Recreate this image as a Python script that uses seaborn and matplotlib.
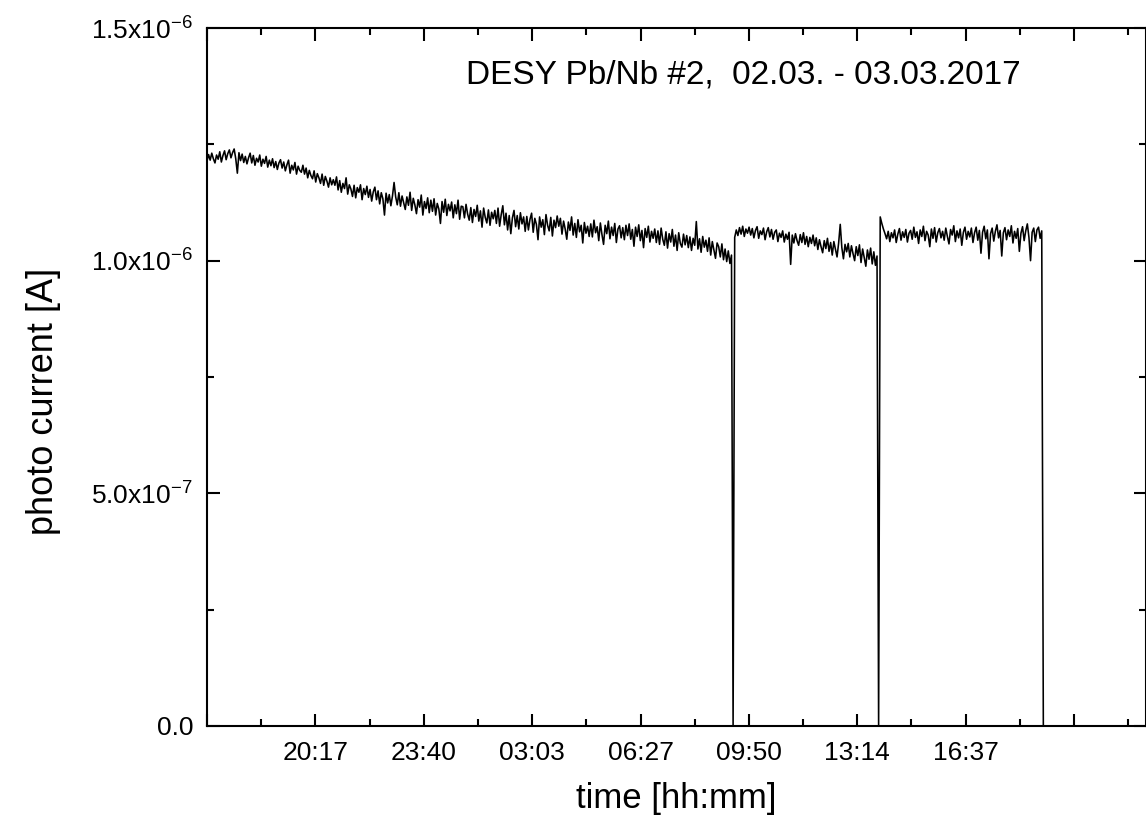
import numpy as np
import seaborn as sns
import matplotlib.pyplot as plt
from matplotlib.ticker import FixedLocator, NullFormatter

# photo current in nA, one sample every 0.05 h, start 16:54 on 02.03.2017
# beam dropouts (0 A) between the runs and at the end
run1_nA = [
    1214, 1228, 1216, 1231, 1219, 1210, 1227, 1218, 1234, 1212, 1226, 1236, 1217, 1230, 1238, 1221, 1232, 1240, 1219, 1188,
    1232, 1215, 1229, 1211, 1224, 1208, 1221, 1231, 1210, 1226, 1205, 1220, 1212, 1227, 1203, 1218, 1209, 1224, 1201, 1216,
    1204, 1219, 1200, 1213, 1196, 1210, 1217, 1199, 1212, 1193, 1206, 1216, 1188, 1205, 1195, 1211, 1186, 1203, 1194, 1190,
    1205, 1186, 1199, 1178, 1194, 1183, 1176, 1193, 1169, 1187, 1178, 1166, 1186, 1162, 1181, 1171, 1158, 1178, 1163, 1174,
    1162, 1180, 1152, 1172, 1147, 1166, 1155, 1178, 1143, 1163, 1154, 1138, 1162, 1135, 1157, 1147, 1163, 1131, 1155, 1142,
    1160, 1136, 1153, 1128, 1148, 1158, 1131, 1150, 1122, 1146, 1133, 1098, 1145, 1124, 1142, 1118, 1139, 1168, 1137, 1120,
    1146, 1117, 1139, 1125, 1110, 1137, 1119, 1147, 1108, 1134, 1120, 1101, 1131, 1115, 1141, 1098, 1127, 1112, 1135, 1103,
    1130, 1106, 1133, 1098, 1123, 1111, 1080, 1127, 1104, 1132, 1097, 1121, 1107, 1126, 1092, 1120, 1101, 1130, 1089, 1117,
    1116, 1092, 1121, 1100, 1087, 1114, 1082, 1110, 1095, 1119, 1085, 1107, 1072, 1113, 1093, 1081, 1109, 1076, 1104, 1090,
    1108, 1080, 1113, 1074, 1099, 1118, 1077, 1102, 1066, 1097, 1058, 1092, 1108, 1073, 1097, 1068, 1103, 1079, 1094, 1063,
    1095, 1066, 1089, 1102, 1061, 1091, 1078, 1045, 1094, 1072, 1088, 1056, 1099, 1076, 1064, 1093, 1053, 1087, 1071, 1096,
    1074, 1091, 1057, 1085, 1068, 1046, 1083, 1065, 1094, 1055, 1080, 1050, 1088, 1062, 1076, 1038, 1082, 1059, 1074, 1052,
    1079, 1051, 1087, 1060, 1073, 1043, 1081, 1056, 1035, 1076, 1058, 1085, 1047, 1072, 1054, 1080, 1039, 1068, 1075, 1049,
    1071, 1045, 1076, 1054, 1079, 1046, 1067, 1031, 1072, 1052, 1077, 1043, 1065, 1028, 1069, 1050, 1074, 1040, 1063, 1048,
    1068, 1039, 1064, 1035, 1070, 1046, 1033, 1062, 1027, 1058, 1040, 1067, 1031, 1055, 1022, 1060, 1037, 1029, 1057, 1034,
    1054, 1028, 1051, 1022, 1048, 1033, 1084, 1025, 1047, 1018, 1052, 1029, 1044, 1020, 1049, 1012, 1041, 1023, 1005, 1038,
    1030, 1008, 1036, 1002, 1025, 998, 1021, 994, 1012,
]
run2_nA = [
    1050, 1066, 1054, 1071, 1057, 1074, 1052, 1068, 1059, 1072,
    1055, 1069, 1049, 1065, 1073, 1048, 1064, 1056, 1070, 1045, 1062, 1071, 1051, 1067, 1046, 1061, 1066, 1041, 1059, 1050,
    1064, 1040, 1057, 1046, 1061, 992, 1055, 1038, 1058, 1043, 1033, 1056, 1039, 1060, 1035, 1052, 1030, 1050, 1037, 1055,
    1032, 1049, 1024, 1045, 1030, 1017, 1043, 1026, 1048, 1020, 1039, 1012, 1041, 1025, 1008, 1038, 1078, 1028, 1004, 1035,
    1019, 1037, 1008, 1032, 1015, 1000, 1030, 1011, 1034, 996, 1025, 1006, 988, 1023, 1003, 1027, 993, 1019, 990, 1010,
]
run3_nA = [
    1094, 1080, 1068, 1058, 1047, 1063, 1041, 1060, 1049, 1066, 1039, 1057, 1069, 1044, 1062, 1050, 1067, 1040, 1059,
    1065, 1046, 1072, 1050, 1062, 1037, 1066, 1052, 1074, 1043, 1063, 1055, 1030, 1068, 1048, 1071, 1040, 1060, 1069, 1049,
    1063, 1044, 1070, 1052, 1036, 1067, 1055, 1075, 1041, 1064, 1049, 1068, 1033, 1061, 1072, 1046, 1063, 1051, 1070, 1039,
    1060, 1072, 1044, 1065, 1016, 1061, 1074, 1047, 1066, 1004, 1058, 1070, 1042, 1063, 1077, 1049, 1065, 1010, 1060, 1071,
    1045, 1066, 1052, 1075, 1038, 1063, 1048, 1069, 1020, 1059, 1073, 1043, 1064, 1079, 1050, 1000, 1061, 1070, 1041, 1066,
    1072, 1048, 1064,
]
sample_step_h = 0.05

x_tick_labels = ["", "20:17", "23:40", "03:03", "06:27", "09:50", "13:14", "16:37", ""]
tick_step_h = 203.33 / 60
y_ticks = [0, 5e-7, 1e-6, 1.5e-6]
y_tick_labels = ["0.0", r"5.0x10$^{-7}$", r"1.0x10$^{-6}$", r"1.5x10$^{-6}$"]

current = np.array(run1_nA + [0] + run2_nA + [0] + run3_nA + [0]) * 1e-9
t = np.arange(len(current)) * sample_step_h

sns.set_theme(style="ticks")
plt.rcParams["font.family"] = ["Liberation Sans", "DejaVu Sans"]
plt.rcParams["mathtext.fontset"] = "custom"
plt.rcParams["mathtext.rm"] = "Liberation Sans"
plt.rcParams["mathtext.default"] = "regular"
plt.rcParams["text.color"] = "black"
plt.rcParams["axes.labelcolor"] = "black"

fig = plt.figure(figsize=(11.46, 8.26), dpi=100)
ax = fig.add_axes([0.1806, 0.1211, 0.8194, 0.845])

sns.lineplot(x=t, y=current, color="black", linewidth=1.15, estimator=None, ax=ax)

ax.set_xlim(0, 29.36)
ax.set_ylim(0, 1.5e-6)

major_x = [i * tick_step_h for i in range(len(x_tick_labels))]
ax.xaxis.set_major_locator(FixedLocator(major_x))
ax.set_xticklabels(x_tick_labels)
ax.xaxis.set_minor_locator(FixedLocator([p + tick_step_h / 2 for p in major_x]))
ax.yaxis.set_major_locator(FixedLocator(y_ticks))
ax.set_yticklabels(y_tick_labels)
ax.yaxis.set_minor_locator(FixedLocator([v + 2.5e-7 for v in y_ticks[:-1]]))
ax.xaxis.set_minor_formatter(NullFormatter())

ax.tick_params(which="both", direction="in", top=True, right=True, width=1.5,
               color="black", labelcolor="black")
ax.tick_params(which="major", length=9, labelsize=19)
ax.tick_params(which="minor", length=5)
ax.tick_params(axis="x", which="major", pad=11)
ax.tick_params(axis="y", which="major", pad=10)
for s in ax.spines.values():
    s.set_linewidth(1.5)
    s.set_color("black")

ax.set_xlabel("time [hh:mm]", fontsize=25, color="black")
ax.set_ylabel("photo current [A]", fontsize=26, color="black")
ax.xaxis.set_label_coords(0.5, -0.08)
ax.yaxis.set_label_coords(-0.155, 0.465)

ax.text(0.571, 0.933, "DESY Pb/Nb #2,  02.03. - 03.03.2017", transform=ax.transAxes,
        ha="center", va="center", fontsize=24, color="black")

plt.savefig("out.png", dpi=100)
